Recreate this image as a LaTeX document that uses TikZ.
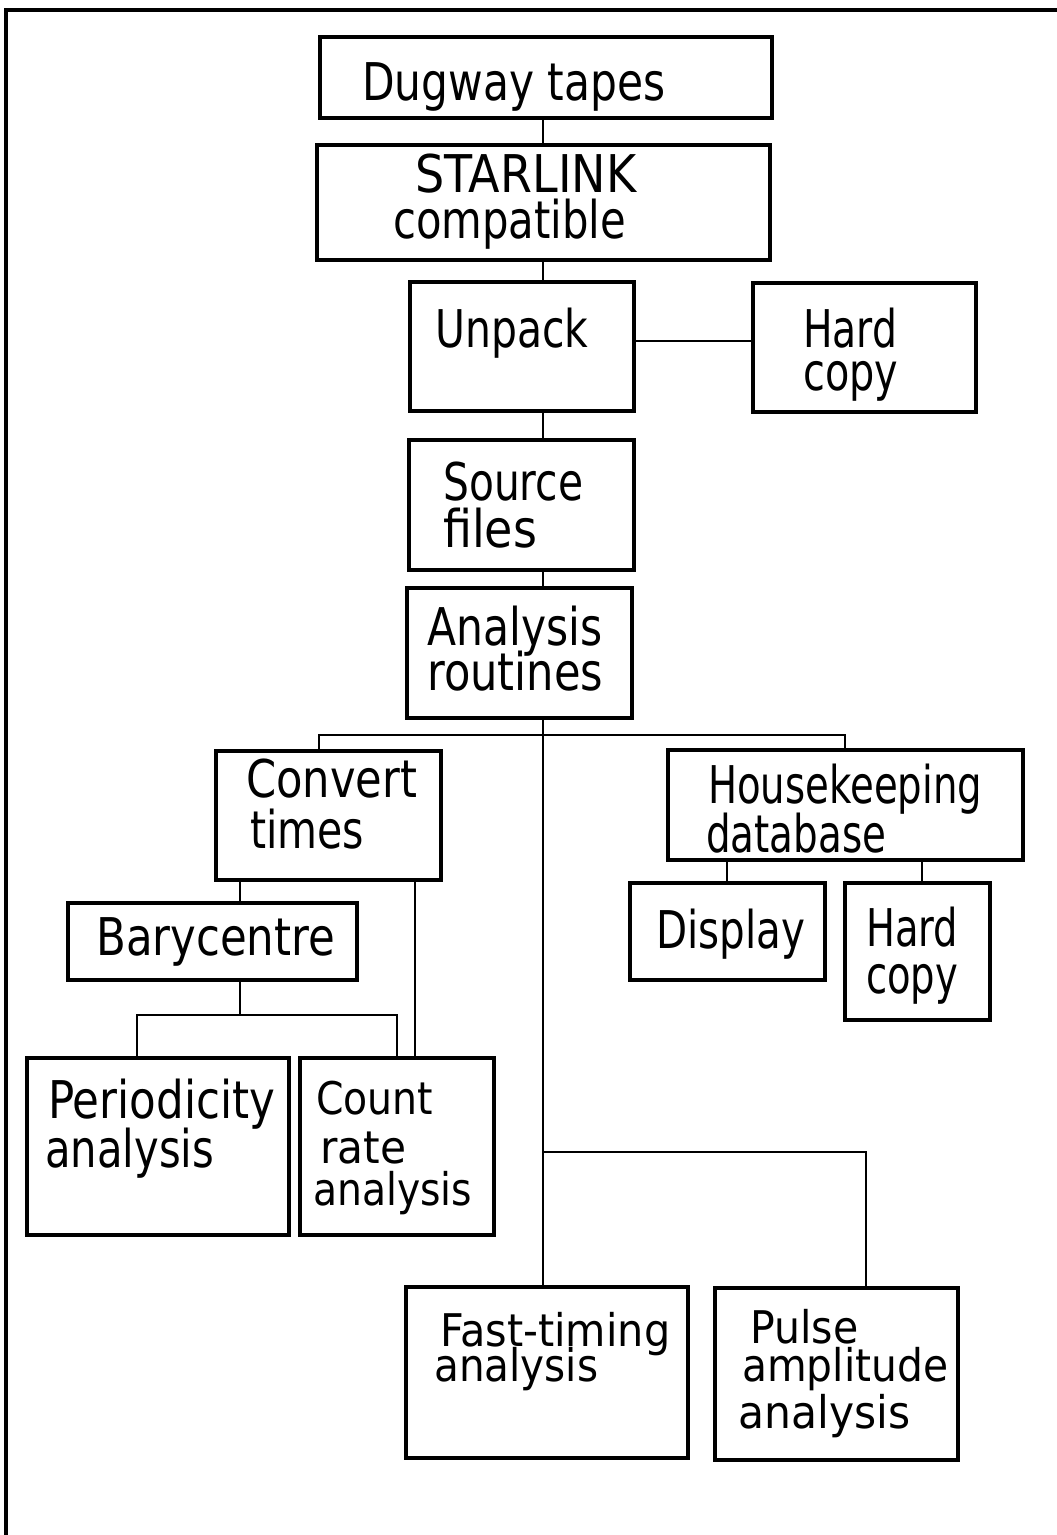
\documentclass[tikz,border=0pt]{standalone}
\usepackage{fontspec}
\setmainfont{DejaVu Sans}
\usetikzlibrary{fit}
\newcommand\tw[2]{\resizebox{#1pt}{\height}{#2}}
\begin{document}
\begin{tikzpicture}[x=1pt,y=-1pt,
  box/.style={draw, line width=3.2pt, inner sep=0pt, fit={#1}},
  conn/.style={draw, line width=2.6pt},
  lbl/.style={anchor=base west, inner sep=0pt, font=\fontsize{52}{52}\selectfont},
  slbl/.style={lbl, font=\fontsize{45}{45}\selectfont}]
\useasboundingbox (0,0) rectangle (1057,1535);
% frame
\draw[line width=3.2pt] (6,1545) -- (6,10) -- (1065,10);
% boxes
\node[box={(320,37) (772,118)}] (dug) {};
\node[box={(317,145) (770,260)}] (star) {};
\node[box={(410,282) (634,411)}] (unp) {};
\node[box={(753,283) (976,412)}] (hc1) {};
\node[box={(409,440) (634,570)}] (src) {};
\node[box={(407,588) (632,718)}] (ana) {};
\node[box={(216,751) (441,880)}] (conv) {};
\node[box={(668,750) (1023,860)}] (hk) {};
\node[box={(630,883) (825,980)}] (disp) {};
\node[box={(845,883) (990,1020)}] (hc2) {};
\node[box={(68,903) (357,980)}] (bary) {};
\node[box={(27,1058) (289,1235)}] (per) {};
\node[box={(300,1058) (494,1235)}] (cnt) {};
\node[box={(406,1287) (688,1458)}] (fast) {};
\node[box={(715,1288) (958,1460)}] (pulse) {};
% texts
\node[lbl] (t1) at (362,100) {\tw{303}{Dugway tapes}};
\node[lbl] (t2) at (415,192) {\tw{221}{STARLINK}};
\node[lbl] (t3) at (393,238) {\tw{233}{compatible}};
\node[lbl] (t4) at (435,347) {\tw{153}{Unpack}};
\node[lbl] (t5) at (803,347) {\tw{94}{Hard}};
\node[lbl] (t6) at (803,390) {\tw{95}{copy}};
\node[lbl] (t7) at (443,500) {\tw{140}{Source}};
\node[lbl] (t8) at (443,547) {\tw{94}{files}};
\node[lbl] (t9) at (427,645) {\tw{175}{Analysis}};
\node[lbl] (t10) at (427,690) {\tw{176}{routines}};
\node[lbl] (t11) at (246,797) {\tw{171}{Convert}};
\node[lbl] (t12) at (250,848) {\tw{114}{times}};
\node[lbl] (t13) at (708,803) {\tw{274}{Housekeeping}};
\node[lbl] (t14) at (706,852) {\tw{180}{database}};
\node[lbl] (t15) at (656,948) {\tw{149}{Display}};
\node[lbl] (t16) at (866,946) {\tw{92}{Hard}};
\node[lbl] (t17) at (866,993) {\tw{92}{copy}};
\node[lbl] (t18) at (96,955) {\tw{239}{Barycentre}};
\node[lbl] (t19) at (48,1118) {\tw{227}{Periodicity}};
\node[lbl] (t20) at (45,1167) {\tw{169}{analysis}};
\node[slbl] (t21) at (316,1114) {\tw{117}{Count}};
\node[slbl] (t22) at (320,1163) {\tw{86}{rate}};
\node[slbl] (t23) at (313,1205) {\tw{159}{analysis}};
\node[slbl] (t24) at (440,1346) {\tw{230}{Fast-timing}};
\node[slbl] (t25) at (434,1381) {\tw{164}{analysis}};
\node[slbl] (t26) at (750,1343) {\tw{108}{Pulse}};
\node[slbl] (t27) at (742,1381) {\tw{206}{amplitude}};
\node[slbl] (t28) at (738,1428) {\tw{172}{analysis}};
% junction coordinates
\coordinate (spx) at (543,0);
\coordinate (uh) at (0,341);
\coordinate (bl) at (319,735);
\coordinate (brr) at (845,735);
\coordinate (hkd) at (727,0);
\coordinate (hkh) at (922,0);
\coordinate (cvb) at (240,0);
\coordinate (cvc) at (415,0);
\coordinate (byj) at (240,1015);
\coordinate (byl) at (137,1015);
\coordinate (byr) at (397,1015);
\coordinate (pj) at (543,1152);
\coordinate (pr) at (866,1152);
% connectors
\draw[conn] (dug.south -| spx) -- (star.north -| spx);
\draw[conn] (star.south -| spx) -- (unp.north -| spx);
\draw[conn] (unp.east |- uh) -- (hc1.west |- uh);
\draw[conn] (unp.south -| spx) -- (src.north -| spx);
\draw[conn] (src.south -| spx) -- (ana.north -| spx);
\draw[conn] (ana.south -| spx) -- (fast.north -| spx);
\draw[conn] (conv.north -| bl) -- (bl) -- (brr) -- (hk.north -| brr);
\draw[conn] (hk.south -| hkd) -- (disp.north -| hkd);
\draw[conn] (hk.south -| hkh) -- (hc2.north -| hkh);
\draw[conn] (conv.south -| cvb) -- (bary.north -| cvb);
\draw[conn] (conv.south -| cvc) -- (cnt.north -| cvc);
\draw[conn] (bary.south -| byj) -- (byj);
\draw[conn] (per.north -| byl) -- (byl) -- (byr) -- (cnt.north -| byr);
\draw[conn] (pj) -- (pr) -- (pulse.north -| pr);
\end{tikzpicture}
\end{document}
